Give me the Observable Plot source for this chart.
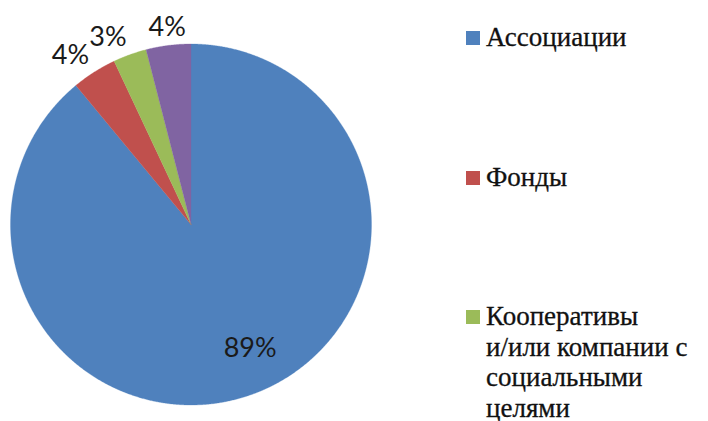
<!DOCTYPE html>
<html><head><meta charset="utf-8">
<script src="https://cdn.jsdelivr.net/npm/d3@7"></script>
<script src="https://cdn.jsdelivr.net/npm/@observablehq/plot@0.6"></script>
<style>
body{margin:0;background:#fff;}
#wrap{position:relative;width:708px;height:421px;overflow:hidden;background:#fff}
#chart{position:absolute;left:0;top:0}
.item{position:absolute;left:466px;font-family:"Liberation Serif",serif;font-size:27px;line-height:30.5px;color:#111;-webkit-text-stroke:0.3px #111}
.sw{position:absolute;left:0;width:14px;height:14px}
.txt{position:absolute;left:20px;white-space:pre}
</style></head><body>
<div id="wrap"><div id="chart"></div><div id="legend"></div></div>
<script>
const categories = ["Ассоциации", "Фонды", "Кооперативы и/или компании с социальными целями", "Прочие"];
const values = [89, 4, 3, 4];
const colors = ["#4F81BD", "#C0504D", "#9BBB59", "#8064A2"];
const pctLabels = ["89%", "4%", "3%", "4%"];
const legendLabels = ["Ассоциации", "Фонды", "Кооперативы\nи/или компании с\nсоциальными\nцелями"];

const cx = 190.5, cy = 224, r = 180.5;
const arcs = d3.pie().sort(null)(values);
const pts = [];
arcs.forEach((a, i) => {
  const n = Math.max(4, Math.ceil((a.endAngle - a.startAngle) / 0.005));
  pts.push({cat: categories[i], x: 0, y: 0});
  for (let k = 0; k <= n; k++) {
    const t = a.startAngle + (a.endAngle - a.startAngle) * k / n;
    pts.push({cat: categories[i], x: Math.sin(t), y: Math.cos(t)});
  }
  pts.push({cat: categories[i], x: 0, y: 0});
});
const lab = arcs.map((a, i) => {
  const m = (a.startAngle + a.endAngle) / 2;
  const inside = i === 0;
  const f = inside ? 0.76 : 1.053;
  const off = inside ? -0.1 : 0;
  const anchor = inside ? "center" : (m < 2 * Math.PI - 0.3 ? "end" : "middle");
  return {text: pctLabels[i], x: Math.sin(m + off) * f, y: Math.cos(m + off) * f, anchor};
});

const txtOpts = {x: "x", y: "y", text: "text", fontSize: 27, fontFamily: "Lato", fill: "#1a1a1a"};
const chart = Plot.plot({
  width: 708, height: 421,
  margin: 0,
  x: {domain: [-1, 1], range: [cx - r, cx + r], axis: null},
  y: {domain: [-1, 1], range: [cy + r, cy - r], axis: null},
  color: {domain: categories, range: colors},
  style: {background: "transparent", overflow: "visible"},
  marks: [
    Plot.line(pts, {x: "x", y: "y", z: "cat", fill: "cat", stroke: "cat", strokeWidth: 0.3, curve: "linear"}),
    Plot.text(lab.filter(d => d.anchor === "center"), {...txtOpts, textAnchor: "middle", lineAnchor: "middle"}),
    Plot.text(lab.filter(d => d.anchor === "end"), {...txtOpts, textAnchor: "end", lineAnchor: "bottom"}),
    Plot.text(lab.filter(d => d.anchor === "middle"), {...txtOpts, textAnchor: "middle", lineAnchor: "bottom"})
  ]
});
document.getElementById("chart").appendChild(chart);

const tops = [22, 162, 301];
const leg = document.getElementById("legend");
legendLabels.forEach((t, i) => {
  const d = document.createElement("div");
  d.className = "item";
  d.style.top = tops[i] + "px";
  d.innerHTML = `<div class="sw" style="background:${colors[i]};top:9px"></div><div class="txt"></div>`;
  d.querySelector(".txt").textContent = t;
  leg.appendChild(d);
});
</script>
</body></html>
